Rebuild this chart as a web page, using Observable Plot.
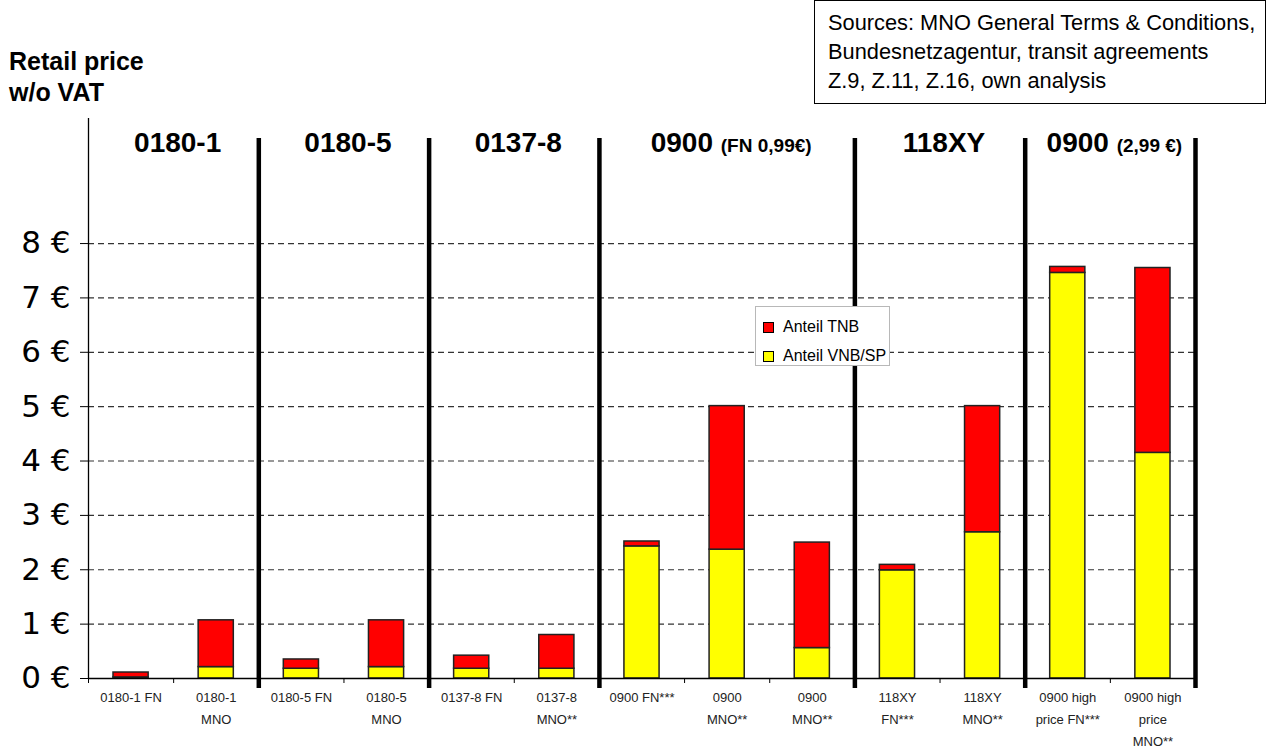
<!DOCTYPE html>
<html>
<head>
<meta charset="utf-8">
<script src="https://cdn.jsdelivr.net/npm/d3@7"></script>
<script src="https://cdn.jsdelivr.net/npm/@observablehq/plot@0.6"></script>
<style>
  body { margin: 0; background: #fff; font-family: "Liberation Sans", Arial, sans-serif; }
  #wrap { position: relative; width: 1268px; height: 751px; overflow: hidden; }
  #chart { position: absolute; left: 0; top: 0; }
  .ytitle { position: absolute; left: 9px; top: 46px; font-weight: bold; font-size: 25px; line-height: 31px; color: #000; }
  .sources { position: absolute; left: 814px; top: 0px; width: 437px; height: 88px; border: 1px solid #000; padding: 7px 0 7px 13px; font-size: 21.8px; line-height: 29px; color: #000; white-space: nowrap; }
  .legend { position: absolute; left: 755px; top: 306px; width: 133px; height: 58px; border: 1px solid #b8b8b8; background: #fff; font-size: 16px; color: #000; }
  .legend .item { position: absolute; left: 7px; height: 18px; display: flex; align-items: center; white-space: nowrap; }
  .legend .sw { width: 9px; height: 9px; border: 1px solid #000; margin-right: 9px; }
</style>
</head>
<body>
<div id="wrap">
  <div id="chart"></div>
  <div class="ytitle">Retail price<br>w/o VAT</div>
  <div class="sources">Sources: MNO General Terms &amp; Conditions,<br>Bundesnetzagentur, transit agreements<br>Z.9, Z.11, Z.16, own analysis</div>
  <div class="legend" id="legend"></div>
</div>
<script>
// ---- data ----
const categories = [
  "0180-1 FN", "0180-1\nMNO",
  "0180-5 FN", "0180-5\nMNO",
  "0137-8 FN", "0137-8\nMNO**",
  "0900 FN***", "0900\nMNO**", "0900\nMNO**",
  "118XY\nFN***", "118XY\nMNO**",
  "0900 high\nprice FN***", "0900 high\nprice\nMNO**"
];
// Anteil VNB/SP (yellow, bottom)
const vnbShare = [0.02, 0.21, 0.18, 0.21, 0.18, 0.18, 2.43, 2.37, 0.56, 1.99, 2.69, 7.46, 4.15];
// Anteil TNB (red, top)
const tnbShare = [0.09, 0.86, 0.17, 0.86, 0.24, 0.62, 0.09, 2.64, 1.94, 0.10, 2.32, 0.11, 3.40];
const groupNames = ["0180-1", "0180-5", "0137-8", "0900", "118XY", "0900"];
const groupNotes = ["", "", "", "(FN 0,99€)", "", "(2,99 €)"];
const groupSizes = [2, 2, 2, 3, 2, 2];
const yTicks = [0, 1, 2, 3, 4, 5, 6, 7, 8];
const seriesNames = ["Anteil TNB", "Anteil VNB/SP"];
const seriesColors = ["#ff0000", "#ffff00"];

// ---- derived tables ----
const rows = [];
categories.forEach((c, i) => {
  rows.push({i, part: "Anteil VNB/SP", y1: 0, y2: vnbShare[i]});
  rows.push({i, part: "Anteil TNB", y1: vnbShare[i], y2: vnbShare[i] + tnbShare[i]});
});
const groups = [];
let start = 0;
groupSizes.forEach((n, g) => {
  groups.push({name: groupNames[g], note: groupNotes[g], first: start, last: start + n - 1, end: start + n - 0.5});
  start += n;
});
const separators = groups.map(g => g.end);
const indices = categories.map((_, i) => i);
const boundaries = [-0.5, ...indices.map(i => i + 0.5)];

const chart = Plot.plot({
  width: 1268,
  height: 751,
  marginLeft: 88,
  marginRight: 73,
  marginTop: 118,
  marginBottom: 73,
  style: {fontFamily: "Liberation Sans, Arial, sans-serif", background: "transparent"},
  x: {type: "linear", domain: [-0.5, categories.length - 0.5], axis: null},
  y: {domain: [0, 10.3], axis: null},
  color: {domain: seriesNames, range: seriesColors},
  marks: [
    Plot.ruleY(yTicks.filter(d => d > 0), {stroke: "#333", strokeWidth: 1.2, strokeDasharray: "6,4"}),
    Plot.rectY(rows, {
      x1: d => d.i - 0.5, x2: d => d.i + 0.5, y1: "y1", y2: "y2",
      fill: "part", stroke: "#222", strokeWidth: 1.5, insetLeft: 25, insetRight: 25
    }),
    Plot.ruleY([0], {stroke: "#000", strokeWidth: 1.5}),
    Plot.ruleX([-0.5], {stroke: "#000", strokeWidth: 1.3}),
    Plot.axisY(yTicks, {
      tickFormat: d => `${d} €`, tickSize: 8, tickPadding: 10, fontSize: 31,
      fontFamily: "DejaVu Sans", fill: "#000", stroke: "#000"
    }),
    Plot.axisX(boundaries, {tickSize: 5, tickFormat: () => "", stroke: "#000"}),
    Plot.axisX(indices, {
      tickSize: 0, tickPadding: 8, fontSize: 13, lineHeight: 1.68,
      tickFormat: i => categories[i], fill: "#222"
    }),
    Plot.ruleX(separators, {stroke: "#000", strokeWidth: 4.5, insetTop: 20, insetBottom: -10}),
    Plot.text(groups, {
      x: d => (d.first + d.last) / 2,
      text: d => d.note ? d.name + " " + d.note : d.name,
      frameAnchor: "top", dy: 14,
      dx: 4, fontSize: 28, fontWeight: "bold", fill: "#000"
    })
  ]
});
document.getElementById("chart").appendChild(chart);

// render parenthetical notes of group headers in a smaller size
chart.querySelectorAll("text").forEach(t => {
  if (t.querySelector("tspan")) return;
  const m = /^(\S+) (\(.*\))$/.exec(t.textContent);
  if (m && groupNotes.includes(m[2])) {
    t.textContent = m[1] + " ";
    const ts = document.createElementNS("http://www.w3.org/2000/svg", "tspan");
    ts.setAttribute("font-size", "19");
    ts.textContent = m[2];
    t.appendChild(ts);
  }
});

// legend
const legend = document.getElementById("legend");
seriesNames.forEach((name, k) => {
  const item = document.createElement("div");
  item.className = "item";
  item.style.top = (k === 0 ? 11 : 40) + "px";
  const sw = document.createElement("div");
  sw.className = "sw";
  sw.style.background = seriesColors[k];
  const lab = document.createElement("span");
  lab.textContent = name;
  item.appendChild(sw);
  item.appendChild(lab);
  legend.appendChild(item);
});
</script>
</body>
</html>
